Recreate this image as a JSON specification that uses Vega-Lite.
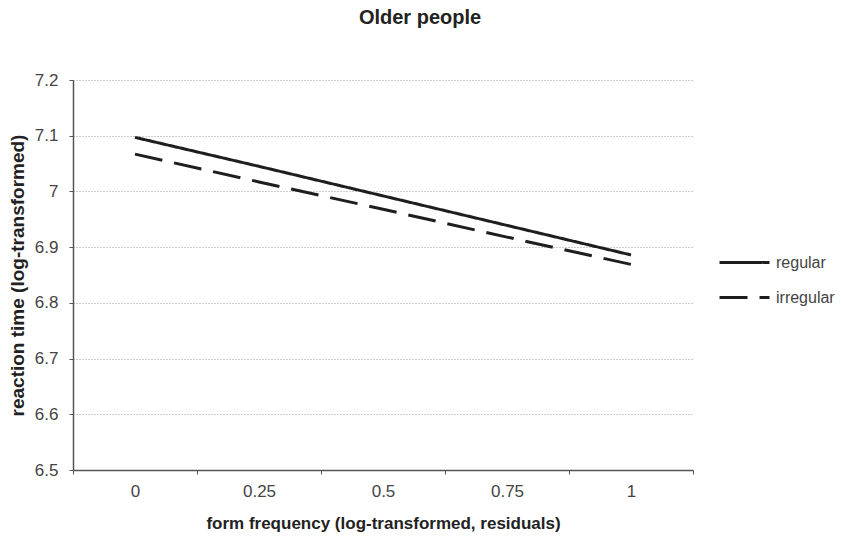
{
  "$schema": "https://vega.github.io/schema/vega-lite/v6.json",
  "autosize": "none",
  "width": 620,
  "height": 390,
  "padding": {"left": 73, "top": 80, "right": 148, "bottom": 66},
  "background": "white",
  "title": {
    "text": "Older people",
    "font": "Liberation Sans",
    "fontSize": 20,
    "fontWeight": "bold",
    "color": "#222222",
    "anchor": "middle",
    "dx": 37,
    "baseline": "alphabetic",
    "offset": 27
  },
  "data": {
    "values": [
      {"freq": "0", "type": "regular", "rt": 7.097},
      {"freq": "0.25", "type": "regular", "rt": 7.045},
      {"freq": "0.5", "type": "regular", "rt": 6.992},
      {"freq": "0.75", "type": "regular", "rt": 6.939},
      {"freq": "1", "type": "regular", "rt": 6.886},
      {"freq": "0", "type": "irregular", "rt": 7.067},
      {"freq": "0.25", "type": "irregular", "rt": 7.017},
      {"freq": "0.5", "type": "irregular", "rt": 6.968},
      {"freq": "0.75", "type": "irregular", "rt": 6.918},
      {"freq": "1", "type": "irregular", "rt": 6.869}
    ]
  },
  "mark": {"type": "line", "color": "#1e1e1e", "strokeWidth": 3},
  "encoding": {
    "x": {
      "field": "freq",
      "type": "ordinal",
      "bandPosition": 0.5,
      "scale": {"type": "band", "domain": ["0", "0.25", "0.5", "0.75", "1"], "paddingInner": 0, "paddingOuter": 0},
      "axis": {
        "title": "form frequency (log-transformed, residuals)",
        "titleFont": "Liberation Sans",
        "titleFontSize": 17,
        "titleFontWeight": "bold",
        "titleColor": "#222222",
        "titleX": 310,
        "titleY": 53,
        "titleBaseline": "middle",
        "labelAngle": 0,
        "labelFont": "Liberation Sans",
        "labelFontSize": 17,
        "labelColor": "#444444",
        "labelPadding": 9,
        "tickBand": "extent",
        "tickSize": 4,
        "tickColor": "#555555",
        "domainColor": "#555555",
        "domainWidth": 1.5,
        "grid": false
      }
    },
    "y": {
      "field": "rt",
      "type": "quantitative",
      "scale": {"domain": [6.5, 7.2], "nice": false, "zero": false},
      "axis": {
        "title": "reaction time (log-transformed)",
        "titleFont": "Liberation Sans",
        "titleFontSize": 19,
        "titleFontWeight": "bold",
        "titleColor": "#222222",
        "titleAngle": -90,
        "titleX": -56,
        "titleY": 195,
        "titleAlign": "center",
        "titleBaseline": "middle",
        "values": [6.5, 6.6, 6.7, 6.8, 6.9, 7.0, 7.1, 7.2],
        "format": ".1~f",
        "labelFont": "Liberation Sans",
        "labelFontSize": 17,
        "labelColor": "#444444",
        "labelPadding": 11,
        "tickSize": 4,
        "tickColor": "#555555",
        "domainColor": "#555555",
        "domainWidth": 1.5,
        "grid": true,
        "gridColor": "#9a9a9a",
        "gridDash": [1, 2],
        "gridWidth": 1
      }
    },
    "strokeDash": {
      "field": "type",
      "type": "nominal",
      "scale": {"domain": ["regular", "irregular"], "range": [[1, 0], [28, 12]]},
      "legend": {
        "title": null,
        "orient": "none",
        "legendX": 645,
        "legendY": 156,
        "symbolType": "stroke",
        "symbolSize": 2500,
        "symbolStrokeWidth": 3,
        "symbolStrokeColor": "#1e1e1e",
        "labelFont": "Liberation Sans",
        "labelFontSize": 16,
        "labelColor": "#444444",
        "labelOffset": 5,
        "rowPadding": -22
      }
    }
  },
  "config": {"view": {"stroke": null}}
}
